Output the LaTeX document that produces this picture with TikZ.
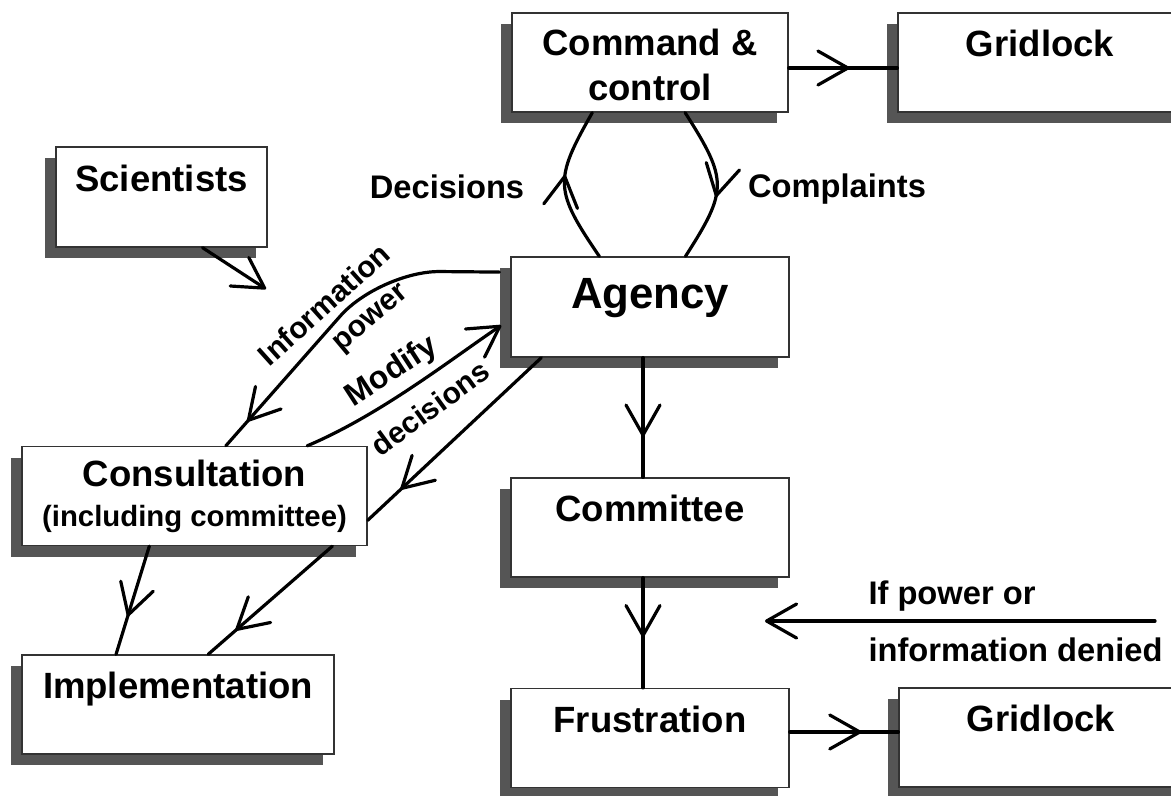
\documentclass[tikz,border=0pt]{standalone}
\usepackage{fontspec}
\setmainfont{Liberation Sans}
\usetikzlibrary{arrows.meta,decorations.markings,shadows}

\definecolor{shadowgray}{RGB}{85,85,85}
\newcommand{\bxfont}{\fontsize{27.4}{34}\selectfont\bfseries}
\newcommand{\agfont}{\fontsize{32.8}{38}\selectfont\bfseries}
\newcommand{\lblfont}{\fontsize{24.5}{29}\selectfont\bfseries}
\newcommand{\crvfont}{\fontsize{22.5}{27}\selectfont\bfseries}

\tikzset{every picture/.style={line width=0.75pt}}
\tikzset{
	box/.style={draw=black!80, fill=white, line width=1pt, inner sep=2pt, font=\bxfont,
		minimum height=74.25pt,
		drop shadow={shadow xshift=-8.25pt, shadow yshift=-8.25pt, fill=shadowgray, opacity=1}},
	boxtop/.style={box, text height=18pt, text depth=27pt},
	conn/.style={line width=2.4pt, line cap=round, line join=round,
		>={Straight Barb[length=22.5pt, width=25.5pt, round]}},
	midarrow/.style={postaction={decorate, decoration={markings, mark=at position #1 with {\arrow{>}}}}},
	lbl/.style={font=\lblfont, inner sep=0pt},
	crvlbl/.style={font=\crvfont, inner sep=0pt}
}

\begin{document}
\begin{tikzpicture}[x=0.75pt,y=0.75pt,yscale=-1,xscale=1]
	\useasboundingbox (0,0) rectangle (1171,796);

	%Boxes
	\node[box, minimum width=207pt, align=center] (cmd) at (650,62.5) {\strut Command \&\\control};
	\node[boxtop, minimum width=213pt] (gridA) at (1040,62.5) {Gridlock};
	\node[boxtop, minimum width=158.25pt, minimum height=75pt] (sci) at (161.5,197) {Scientists};
	\node[box, minimum width=208.5pt, minimum height=75pt, font=\agfont, text height=24pt, text depth=21.75pt] (agency) at (650,307) {Agency};
	\node[box, minimum width=258.75pt, align=center, font={\fontsize{27.4}{30}\selectfont\bfseries}] (consult) at (194.5,496) {Consultation\\{\fontsize{22}{30}\selectfont (including committee)}};
	\node[boxtop, minimum width=234pt] (impl) at (178,704.5) {Implementation};
	\node[boxtop, minimum width=208.5pt] (committee) at (650,527.5) {Committee};
	\node[boxtop, minimum width=208.5pt] (frust) at (650,738) {Frustration};
	\node[boxtop, minimum width=213pt] (gridB) at (1041,737.5) {Gridlock};

	%Free ends
	\coordinate (sciTip) at (266,289);
	\coordinate (denyStart) at (1155,621);
	\coordinate (denyEnd) at (765,621);

	%Connectors
	\draw[conn, midarrow=0.56] (cmd.east |- 0,68) -- (gridA.west |- 0,68);
	\draw[conn, midarrow=0.57] (agency.135) .. controls (554,190) and (554,180) .. (cmd.221);
	\draw[conn, midarrow=0.58] (cmd.305) .. controls (728,180) and (728,190) .. (agency.55);
	\draw[conn, midarrow=0.66] (agency.south -| 643,0) -- (committee.north -| 643,0);
	\draw[conn, midarrow=0.54] (committee.south -| 643,0) -- (frust.north -| 643,0);
	\draw[conn, midarrow=0.66] (frust.east |- 0,732) -- (gridB.west |- 0,732);
	\draw[conn, ->] (sci.309) -- (sciTip);
	\draw[conn, rounded corners=45pt, midarrow=0.91, shorten <=8.25pt] (agency.166) -- (380,271) -- (consult.58);
	\draw[conn, ->, shorten >=8.25pt] (consult.24) .. controls (380,415) and (450,360) .. (agency.185);
	\draw[conn, midarrow=0.81] (agency.205) -- (consult.352);
	\draw[conn, midarrow=0.65] (consult.228) -- (impl.141);
	\draw[conn, midarrow=0.78] (consult.340) -- (impl.59);
	\draw[conn, ->] (denyStart) -- (denyEnd);

	%Labels
	\node[lbl] (decLbl) at (447,187) {Decisions};
	\node[lbl] (compLbl) at (837,189.5) {Complaints};
	\node[lbl, anchor=west] (ifLbl) at (868,596.5) {If power or};
	\node[lbl, anchor=west] (denLbl) at (868,650) {information denied};
	\node[crvlbl, rotate=42] (infoLbl) at (324,304) {Information};
	\node[crvlbl, rotate=40] (powLbl) at (372,320) {power};
	\node[crvlbl, font={\fontsize{24}{28}\selectfont\bfseries}, rotate=33] (modLbl) at (392,372) {Modify};
	\node[crvlbl, rotate=36] (decsLbl) at (430,408) {decisions};

\end{tikzpicture}
\end{document}
